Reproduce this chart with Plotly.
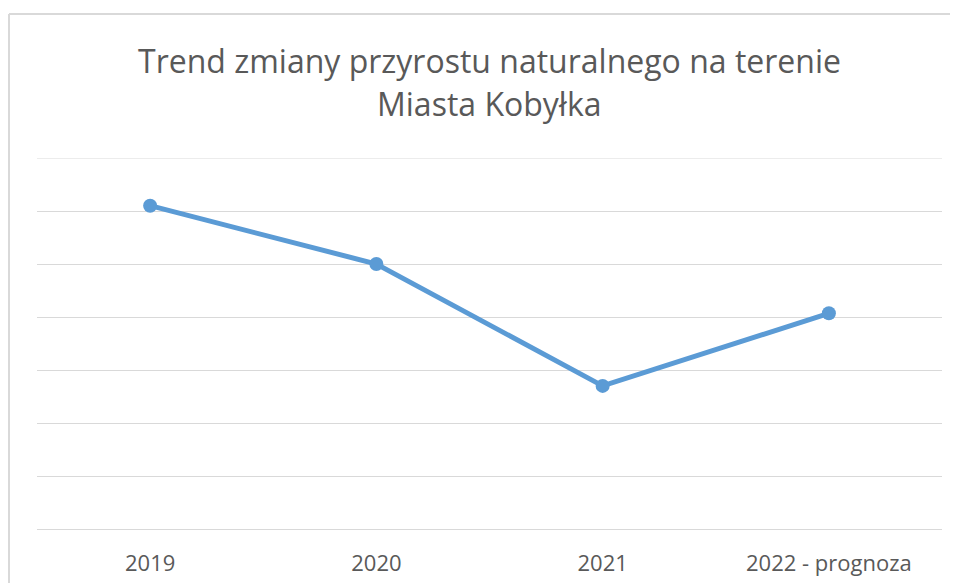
import plotly.graph_objects as go

categories = ["2019", "2020", "2021", "2022 - prognoza"]
values = [61, 50, 27, 40.7]
y_ticks = [0, 10, 20, 30, 40, 50, 60, 70]
title_lines = ["Trend zmiany przyrostu naturalnego na terenie", "Miasta Kobyłka"]

OFF = 8  # page body margin
W, H = 958 - OFF, 583 - OFF
# plot area in reference pixels: x 37..942, y 158..529
L, R, T, B = 37 - OFF, 958 - 942, 158 - OFF, 583 - 529
pw, ph = W - L - R, H - T - B

def px_x(p):
    return (p - OFF - L) / pw

def px_y(p):
    return (H - B - (p - OFF)) / ph

fig = go.Figure()
fig.add_trace(go.Scatter(
    x=categories, y=values, mode="lines+markers",
    line=dict(color="#5B9BD5", width=5),
    marker=dict(color="#5B9BD5", size=14),
    showlegend=False, hoverinfo="skip",
))

annotations = []
for txt, cy in zip(title_lines, [60, 104]):
    annotations.append(dict(
        text=txt, xref="paper", yref="paper", x=0.5, y=px_y(cy),
        xanchor="center", yanchor="middle", showarrow=False,
        font=dict(size=32, color="#595959", family="Open Sans, sans-serif"),
    ))

border = dict(color="#d9d9d9", width=2)
fig.update_layout(
    width=W, height=H,
    margin=dict(l=L, r=R, t=T, b=B, autoexpand=False),
    paper_bgcolor="white", plot_bgcolor="white",
    font=dict(family="Open Sans, sans-serif", color="#595959"),
    annotations=annotations,
    xaxis=dict(type="category", showgrid=False, showline=True, linecolor="#d9d9d9",
               linewidth=1, ticks="", tickfont=dict(size=22, color="#595959"),
               range=[-0.5, 3.5], fixedrange=True, ticklabelstandoff=15,
               automargin=False),
    yaxis=dict(range=[0, 70], tickvals=y_ticks, showticklabels=False, showgrid=True,
               gridcolor="#d9d9d9", gridwidth=1, zeroline=False, showline=False,
               fixedrange=True, automargin=False),
    shapes=[
        dict(type="line", xref="paper", yref="paper",
             x0=px_x(9), x1=px_x(958), y0=px_y(14), y1=px_y(14),
             line=border, layer="below"),
        dict(type="line", xref="paper", yref="paper",
             x0=px_x(9), x1=px_x(9), y0=px_y(14), y1=px_y(583),
             line=border, layer="below"),
        dict(type="line", xref="paper", yref="y", x0=0, x1=1, y0=y_ticks[-1], y1=y_ticks[-1],
             line=dict(color="#d9d9d9", width=1), layer="below"),
    ],
)

fig.write_html("out.html", config={"displayModeBar": False})
